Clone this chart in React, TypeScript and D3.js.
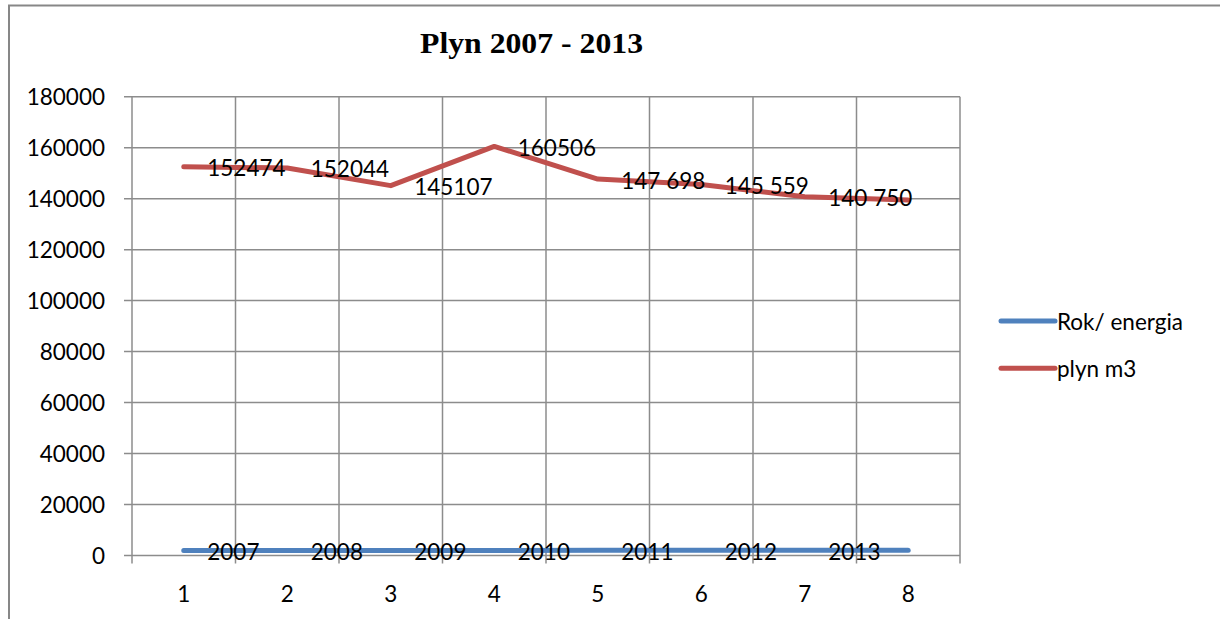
import React from "react";
import * as d3 from "d3";

const categories = ["1", "2", "3", "4", "5", "6", "7", "8"];
const rokValues = [2007, 2008, 2009, 2010, 2011, 2012, 2013, 2014];
const rokLabels = ["2007", "2008", "2009", "2010", "2011", "2012", "2013", ""];
const plynValues = [152474, 152044, 145107, 160506, 147698, 145559, 140750, 139500];
const plynLabels = ["152474", "152044", "145107", "160506", "147 698", "145 559", "140 750", ""];
const yTicks = [0, 20000, 40000, 60000, 80000, 100000, 120000, 140000, 160000, 180000];
const title = "Plyn 2007 - 2013";
const seriesNames = ["Rok/ energia", "plyn m3"];
const seriesColors = ["#4F81BD", "#C0504D"];

const W = 1220;
const H = 619;
const plot = { left: 132, right: 960, top: 96.7, bottom: 555.5 };
const FONT = "Lato, 'Open Sans', sans-serif";
const FS = 22.5;

export default function App() {
  const xBand = d3
    .scaleBand<string>()
    .domain(categories)
    .range([plot.left, plot.right])
    .paddingInner(0)
    .paddingOuter(0);
  const xc = (i: number) => (xBand(categories[i]) as number) + xBand.bandwidth() / 2;
  const y = d3.scaleLinear().domain([0, 180000]).range([plot.bottom, plot.top]);

  const line = d3
    .line<number>()
    .x((_, i) => xc(i))
    .y((d) => y(d));

  const boundaries = categories.map((c) => xBand(c) as number).concat([plot.right]);
  const grid = "#8c8c8c";
  const series = [
    { values: rokValues, labels: rokLabels },
    { values: plynValues, labels: plynLabels },
  ];

  return (
    <svg
      width={W}
      height={H}
      style={{ position: "absolute", left: 0, top: 0, background: "#fff" }}
    >
      <rect x={0} y={0} width={W} height={H} fill="#fff" />
      <rect x={9} y={5.5} width={1400} height={900} fill="none" stroke="#878787" strokeWidth={2} />

      <text
        x={531.5}
        y={52.7}
        textAnchor="middle"
        fontFamily="'Liberation Serif', serif"
        fontWeight={700}
        fontSize={30}
        textLength={223}
        lengthAdjust="spacingAndGlyphs"
        fill="#000"
      >
        {title}
      </text>

      {/* horizontal gridlines + y ticks */}
      {yTicks.map((t) => (
        <g key={"y" + t}>
          <line x1={plot.left - 8} x2={plot.right} y1={y(t)} y2={y(t)} stroke={grid} strokeWidth={1.5} />
          <text
            x={105}
            y={y(t)}
            textAnchor="end"
            dominantBaseline="central"
            fontFamily={FONT}
            fontSize={FS}
            fill="#000"
          >
            {t}
          </text>
        </g>
      ))}

      {/* vertical gridlines + x ticks */}
      {boundaries.map((b, i) => (
        <line
          key={"v" + i}
          x1={b}
          x2={b}
          y1={plot.top}
          y2={plot.bottom + 8}
          stroke={grid}
          strokeWidth={1.5}
        />
      ))}
      {categories.map((c, i) => (
        <text
          key={"c" + c}
          x={xc(i)}
          y={593}
          textAnchor="middle"
          dominantBaseline="central"
          fontFamily={FONT}
          fontSize={FS}
          fill="#000"
        >
          {c}
        </text>
      ))}

      {/* series lines */}
      {series.map((s, si) => (
        <path
          key={"s" + si}
          d={line(s.values) as string}
          fill="none"
          stroke={seriesColors[si]}
          strokeWidth={5}
          strokeLinecap="round"
          strokeLinejoin="round"
        />
      ))}

      {/* data labels */}
      {series.map((s, si) =>
        s.labels.map((lab, i) =>
          lab ? (
            <text
              key={"l" + si + "-" + i}
              x={xc(i) + 23.5}
              y={y(s.values[i]) + 1}
              dominantBaseline="central"
              fontFamily={FONT}
              fontSize={FS}
              fill="#000"
            >
              {lab}
            </text>
          ) : null
        )
      )}

      {/* legend */}
      {seriesNames.map((n, i) => {
        const ly = 321 + i * 47.3;
        return (
          <g key={"lg" + i}>
            <line
              x1={1001}
              x2={1055}
              y1={ly}
              y2={ly}
              stroke={seriesColors[i]}
              strokeWidth={5}
              strokeLinecap="round"
            />
            <text
              x={1057}
              y={ly}
              dominantBaseline="central"
              fontFamily={FONT}
              fontSize={FS}
              fill="#000"
            >
              {n}
            </text>
          </g>
        );
      })}
    </svg>
  );
}
